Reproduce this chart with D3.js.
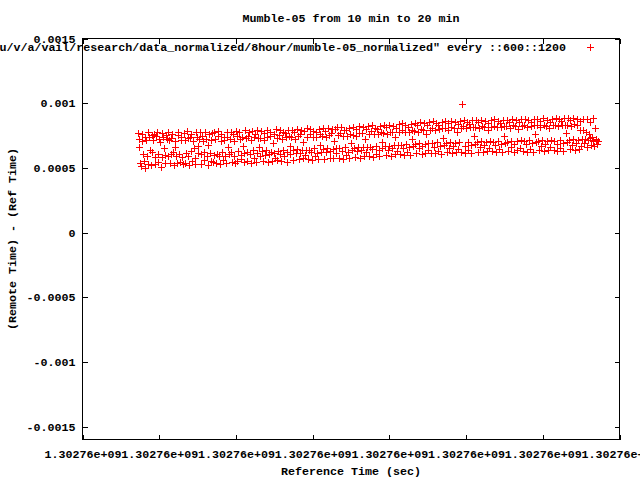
<!DOCTYPE html>
<html>
<head>
<meta charset="utf-8">
<script src="https://cdn.jsdelivr.net/npm/d3@7"></script>
<style>
  body { margin: 0; background: #fff; }
  text { font-family: "Liberation Mono", "DejaVu Sans Mono", monospace; font-size: 11.67px; font-weight: bold; fill: #000; }
</style>
</head>
<body>
<svg id="chart" width="640" height="480"></svg>
<script>
// Tick values (gnuplot prints every x tick as 1.30276e+09)
const xTicks = [1302759900, 1302760000, 1302760100, 1302760200, 1302760300, 1302760400, 1302760500, 1302760600];
const yTicks = [-0.0015, -0.001, -0.0005, 0, 0.0005, 0.001, 0.0015];

// samples 600..1200, one per second, starting at this reference time
const startTime = 1302759972;

// (Remote Time) - (Ref Time), in microseconds
const offsetMicro = [
  772, 725, 662, 540, 515, 705, 760, 610, 552, 498, 742, 715, 595, 530, 775, 738, 640, 520, 755, 620,
  712, 765, 585, 528, 750, 780, 548, 610, 725, 700, 505, 582, 768, 735, 650, 602, 535, 755, 720, 590,
  775, 718, 540, 605, 728, 762, 625, 520, 710, 660, 592, 538, 754, 780, 610, 548, 716, 742, 585, 530,
  770, 715, 540, 615, 782, 728, 595, 520, 740, 765, 630, 552, 705, 650, 580, 528, 775, 738, 612, 670,
  722, 778, 605, 532, 748, 705, 560, 620, 780, 725, 590, 525, 680, 760, 615, 552, 718, 772, 545, 600,
  775, 722, 540, 610, 748, 785, 595, 532, 710, 760, 625, 560, 742, 718, 588, 538, 780, 735, 660, 610,
  725, 780, 620, 545, 762, 710, 590, 535, 788, 748, 552, 630, 775, 722, 600, 565, 740, 670, 618, 548,
  790, 728, 550, 622, 745, 778, 605, 540, 715, 785, 638, 575, 742, 765, 545, 618, 790, 728, 660, 592,
  730, 785, 630, 550, 768, 715, 600, 640, 795, 742, 545, 605, 748, 780, 625, 555, 690, 765, 618, 575,
  798, 732, 558, 630, 752, 790, 610, 550, 720, 775, 640, 592, 768, 738, 625, 545, 795, 750, 670, 608,
  738, 792, 635, 560, 775, 722, 615, 645, 800, 745, 565, 618, 760, 790, 640, 575, 700, 785, 600, 635,
  805, 742, 565, 640, 762, 798, 620, 560, 735, 785, 650, 595, 775, 740, 612, 570, 800, 758, 680, 625,
  745, 805, 645, 572, 788, 735, 620, 650, 810, 755, 575, 628, 768, 800, 648, 580, 710, 798, 612, 655,
  812, 752, 578, 650, 772, 815, 630, 572, 745, 795, 660, 598, 790, 750, 625, 575, 808, 762, 690, 640,
  755, 815, 655, 585, 800, 745, 632, 660, 820, 766, 580, 640, 770, 812, 662, 590, 720, 798, 625, 665,
  822, 762, 592, 662, 785, 828, 642, 585, 758, 808, 672, 610, 802, 760, 640, 588, 825, 775, 700, 652,
  770, 832, 668, 598, 812, 765, 640, 672, 835, 780, 595, 650, 778, 825, 675, 605, 740, 808, 632, 678,
  840, 780, 605, 678, 792, 845, 655, 600, 775, 830, 688, 622, 815, 780, 660, 598, 842, 790, 720, 668,
  788, 848, 682, 612, 830, 778, 650, 690, 852, 800, 610, 668, 795, 845, 688, 618, 760, 828, 640, 692,
  855, 795, 618, 690, 808, 860, 665, 612, 790, 845, 698, 632, 828, 800, 672, 610, 858, 805, 730, 680,
  805, 860, 692, 620, 845, 792, 655, 698, 865, 815, 615, 672, 808, 855, 695, 625, 780, 840, 648, 700,
  865, 810, 622, 990, 820, 870, 672, 618, 805, 858, 702, 638, 840, 812, 680, 615, 868, 818, 745, 688,
  815, 868, 698, 625, 852, 805, 660, 705, 872, 822, 620, 678, 815, 862, 700, 632, 790, 848, 652, 708,
  870, 818, 628, 700, 825, 875, 678, 622, 812, 865, 708, 642, 850, 818, 685, 620, 872, 825, 750, 692,
  822, 872, 702, 630, 858, 810, 665, 708, 878, 828, 625, 682, 820, 868, 705, 635, 800, 852, 655, 712,
  875, 822, 632, 705, 830, 880, 682, 625, 818, 870, 712, 645, 855, 822, 690, 625, 878, 830, 760, 698,
  828, 878, 708, 635, 862, 815, 670, 712, 882, 832, 630, 688, 825, 872, 710, 640, 810, 858, 660, 715,
  880, 828, 638, 710, 835, 885, 688, 630, 822, 875, 718, 650, 860, 828, 695, 632, 882, 835, 770, 702,
  832, 882, 715, 642, 868, 820, 678, 720, 885, 838, 640, 695, 830, 878, 718, 648, 790, 862, 668, 722,
  875, 795, 692, 720, 780, 880, 665, 712, 760, 855, 730, 675, 740, 888, 705, 668, 805, 725, 712, 685,
  705
];

const titleText = "Mumble-05 from 10 min to 20 min";
const keyText = "\"/u/v/a/vail/research/data_normalized/8hour/mumble-05_normalized\" every ::600::1200";
const xLabel = "Reference Time (sec)";
const yLabel = "(Remote Time) - (Ref Time)";

const points = offsetMicro.map((v, i) => ({ t: startTime + i, v: v / 1e6 }));

// plot frame in pixels
const frameLeft = 82.5, frameRight = 619.5, frameTop = 38.5, frameBottom = 439.5;

const svg = d3.select("#chart");
svg.append("rect").attr("width", 640).attr("height", 480).attr("fill", "#fff");

const x = d3.scaleLinear().domain([1302759900, 1302760600]).range([frameLeft, frameRight]);
const y = d3.scaleLinear().domain([-0.0016, 0.0015]).range([frameBottom, frameTop]);

// gnuplot style %g
const fmtX = (d) => d.toExponential(5).replace(/e\+(\d)$/, "e+0$1");
const fmtY = (d) => String(+d.toPrecision(6));

// Axes: ticks pointing inwards, mirrored on top and right
svg.append("g")
  .attr("transform", `translate(0,${frameBottom})`)
  .call(d3.axisBottom(x).tickValues(xTicks).tickFormat(fmtX).tickSize(-5).tickPadding(10))
  .call((g) => g.select(".domain").remove());

svg.append("g")
  .attr("transform", `translate(0,${frameTop})`)
  .call(d3.axisTop(x).tickValues(xTicks).tickFormat("").tickSize(-5))
  .call((g) => g.select(".domain").remove());

svg.append("g")
  .attr("transform", `translate(${frameLeft},0)`)
  .call(d3.axisLeft(y).tickValues(yTicks).tickFormat(fmtY).tickSize(-5).tickPadding(7))
  .call((g) => g.select(".domain").remove());

svg.append("g")
  .attr("transform", `translate(${frameRight},0)`)
  .call(d3.axisRight(y).tickValues(yTicks).tickFormat("").tickSize(-5))
  .call((g) => g.select(".domain").remove());

svg.selectAll(".tick line").attr("stroke", "#000").attr("shape-rendering", "crispEdges");
svg.selectAll(".tick text")
  .attr("fill", "#000")
  .style("font-family", "'Liberation Mono', 'DejaVu Sans Mono', monospace")
  .style("font-size", "11.67px")
  .style("font-weight", "bold");

// frame
svg.append("rect")
  .attr("x", frameLeft).attr("y", frameTop)
  .attr("width", frameRight - frameLeft).attr("height", frameBottom - frameTop)
  .attr("fill", "none").attr("stroke", "#000")
  .attr("shape-rendering", "crispEdges");

// title and axis labels
svg.append("text")
  .attr("x", (frameLeft + frameRight) / 2).attr("y", 19)
  .attr("text-anchor", "middle").attr("dominant-baseline", "central")
  .text(titleText);

svg.append("text")
  .attr("x", (frameLeft + frameRight) / 2).attr("y", 472)
  .attr("text-anchor", "middle").attr("dominant-baseline", "central")
  .text(xLabel);

svg.append("text")
  .attr("transform", `translate(13,${(frameTop + frameBottom) / 2}) rotate(-90)`)
  .attr("text-anchor", "middle").attr("dominant-baseline", "central")
  .text(yLabel);

// key
svg.append("text")
  .attr("x", 566).attr("y", 48)
  .attr("text-anchor", "end").attr("dominant-baseline", "central")
  .text(keyText);

const cross = (cx, cy) => `M${cx - 3.5},${cy}h7M${cx},${cy - 3.5}v7`;

svg.append("path")
  .attr("d", cross(590.5, 47.5))
  .attr("stroke", "#ff0000").attr("stroke-width", 1).attr("fill", "none")
  .attr("shape-rendering", "crispEdges");

// data points
svg.append("g")
  .selectAll("path")
  .data(points)
  .join("path")
  .attr("d", (d) => cross(Math.round(x(d.t)) + 0.5, Math.round(y(d.v)) + 0.5))
  .attr("stroke", "#ff0000")
  .attr("stroke-width", 1)
  .attr("fill", "none")
  .attr("shape-rendering", "crispEdges");
</script>
</body>
</html>
